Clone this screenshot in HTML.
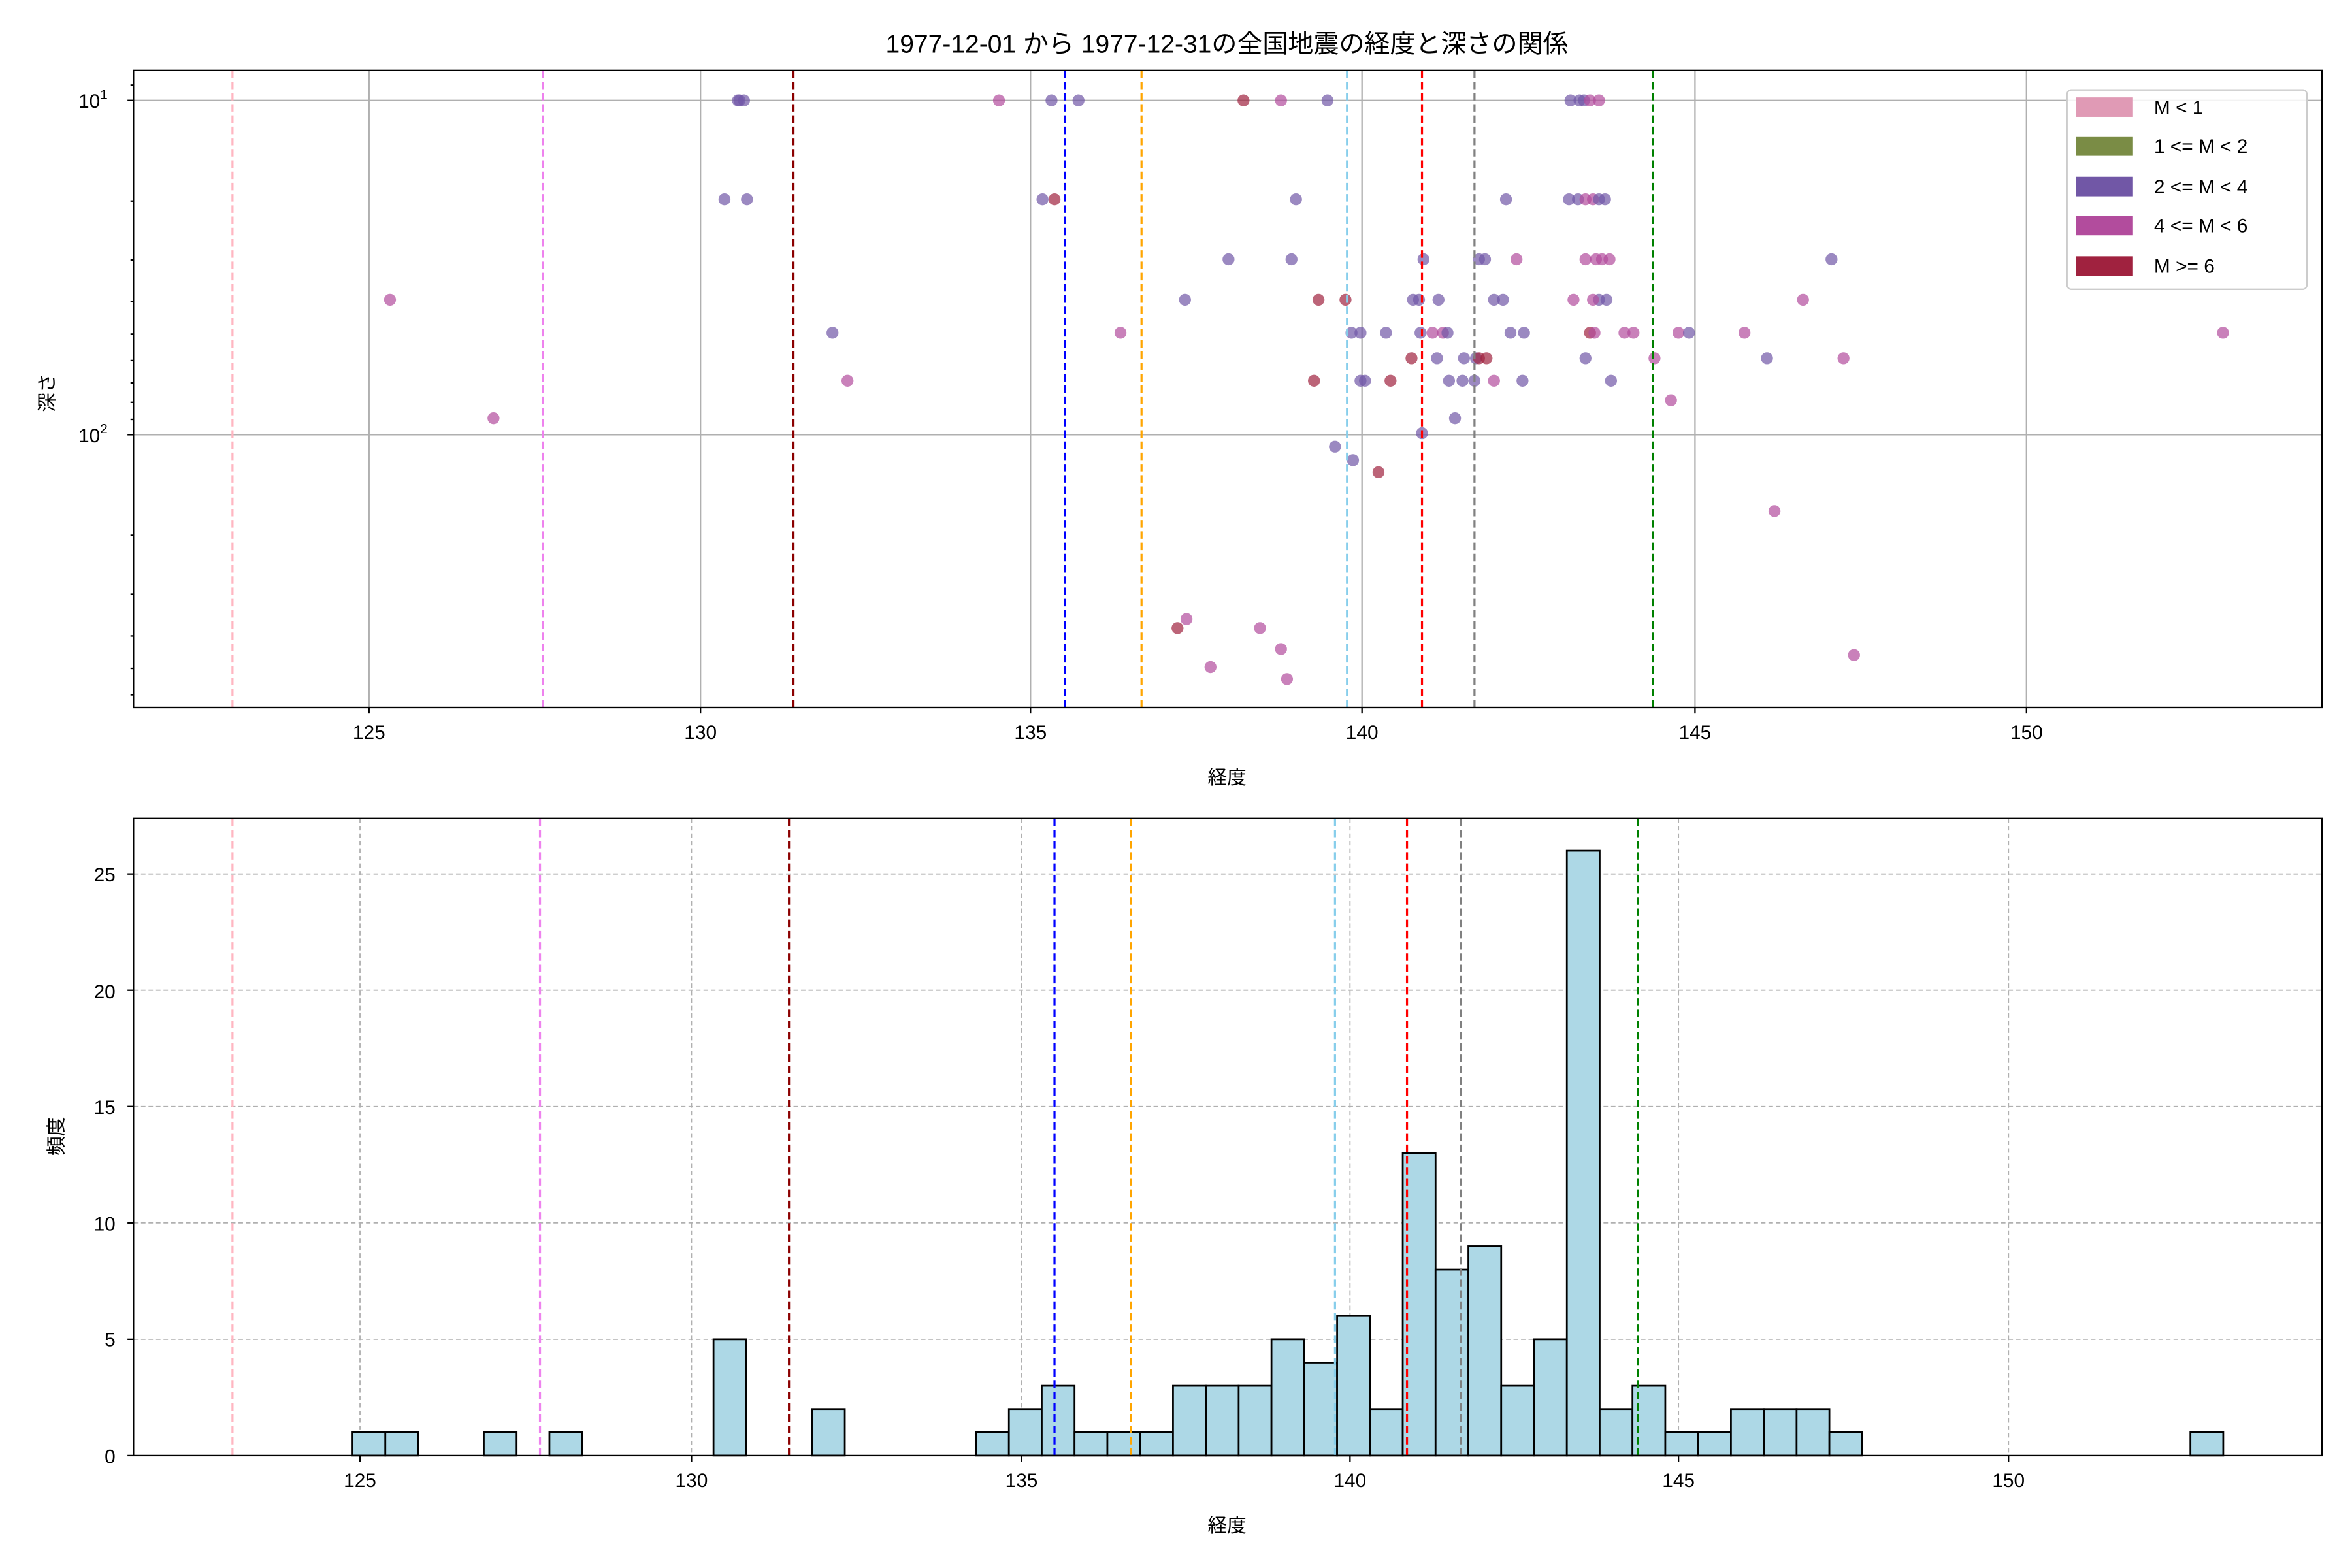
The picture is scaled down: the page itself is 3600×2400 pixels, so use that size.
<!DOCTYPE html>
<html><head><meta charset="utf-8"><style>
html,body{margin:0;padding:0;background:#fff;}
svg{display:block;}
text{font-family:"Liberation Sans","Noto Sans CJK JP",sans-serif;fill:#000;}
</style></head><body>
<svg id="s" width="3600" height="2400" viewBox="0 0 1568 1046" preserveAspectRatio="none" xmlns="http://www.w3.org/2000/svg">
<rect width="1568" height="1046" fill="#fff"/>
<text x="818" y="35" font-size="17" text-anchor="middle">1977-12-01 から 1977-12-31の全国地震の経度と深さの関係</text>
<g id="gtop"></g>
<g id="gbot"></g>
<rect x="89" y="47" width="1459" height="425" fill="none" stroke="#000" stroke-width="1"/>
<g font-size="13" text-anchor="middle">
<text x="246" y="493">125</text><text x="467" y="493">130</text><text x="687" y="493">135</text>
<text x="908" y="493">140</text><text x="1130" y="493">145</text><text x="1351" y="493">150</text>
<text x="818" y="523">経度</text>
</g>
<text x="62" y="72" font-size="13" text-anchor="middle">10<tspan font-size="9" dy="-6">1</tspan></text>
<text x="62" y="295" font-size="13" text-anchor="middle">10<tspan font-size="9" dy="-6">2</tspan></text>
<text transform="translate(36,262) rotate(-90)" font-size="13" text-anchor="middle">深さ</text>
<g id="legend">
<rect x="1378" y="60" width="160" height="133" rx="3" fill="#fff" fill-opacity="0.85" stroke="#ccc"/>
<g font-size="13">
<rect x="1384" y="65" width="38" height="13" fill="#e09ab5"/><text x="1436" y="76">M &lt; 1</text>
<rect x="1384" y="91" width="38" height="13" fill="#7a8c45"/><text x="1436" y="102">1 &lt;= M &lt; 2</text>
<rect x="1384" y="118" width="38" height="13" fill="#7157a6"/><text x="1436" y="129">2 &lt;= M &lt; 4</text>
<rect x="1384" y="144" width="38" height="13" fill="#b24c9d"/><text x="1436" y="155">4 &lt;= M &lt; 6</text>
<rect x="1384" y="171" width="38" height="13" fill="#a0223f"/><text x="1436" y="182">M &gt;= 6</text>
</g>
</g>
<rect x="89" y="546" width="1459" height="425" fill="none" stroke="#000" stroke-width="1"/>
<g font-size="13" text-anchor="middle">
<text x="240" y="992">125</text><text x="461" y="992">130</text><text x="681" y="992">135</text>
<text x="900" y="992">140</text><text x="1119" y="992">145</text><text x="1339" y="992">150</text>
<text x="818" y="1022">経度</text>
</g>
<g font-size="13" text-anchor="end">
<text x="77" y="976">0</text><text x="77" y="898">5</text><text x="77" y="821">10</text>
<text x="77" y="743">15</text><text x="77" y="666">20</text><text x="77" y="588">25</text>
</g>
<text transform="translate(42,758) rotate(-90)" font-size="13" text-anchor="middle">頻度</text>
</svg>
<script>
(function(){
const NS="http://www.w3.org/2000/svg";
function el(p,t,a){const e=document.createElementNS(NS,t);for(const k in a)e.setAttribute(k,a[k]);p.appendChild(e);return e;}
const gt=document.getElementById('gtop'),gb=document.getElementById('gbot');
[246,467,687,908,1130,1351].forEach(x=>{el(gt,'line',{x1:x,x2:x,y1:47,y2:472,stroke:'#b0b0b0','stroke-width':1});el(gt,'line',{x1:x,x2:x,y1:472,y2:476,stroke:'#000'});});
[67,290].forEach(y=>{el(gt,'line',{x1:89,x2:1548,y1:y,y2:y,stroke:'#b0b0b0','stroke-width':1});el(gt,'line',{x1:85,x2:89,y1:y,y2:y,stroke:'#000'});});
[1,10,100].forEach(d=>{for(let m=2;m<=9;m++){const v=d*m;const y=67+223*Math.log10(v/10);if(y>47&&y<472)el(gt,'line',{x1:87,x2:89,y1:y,y2:y,stroke:'#000'});}});
const vl=[['#ffb6c1',155,155],['#ee82ee',362,360],['#8b0000',529,526],['#0000ff',710,703],['#ffa500',761,754],['#87ceeb',898,890],['#ff0000',948,938],['#808080',983,974],['#008000',1102,1092]];
const P='#7157a6',M='#b24c9d',R='#a0223f';
const pts=[[496,67,P],[493,67,P],[666,67,M],[701,67,P],[719,67,P],[829,67,R],[854,67,M],[885,67,P],[1047,67,P],[1053,67,P],[1056,67,P],[1060,67,M],[1066,67,M],[492,67,P],
[483,133,P],[498,133,P],[695,133,P],[703,133,R],[864,133,P],[1046,133,P],[1052,133,P],[1057,133,M],[1062,133,M],[1066,133,P],[1070,133,P],[1004,133,P],
[819,173,P],[861,173,P],[949,173,P],[986,173,P],[990,173,P],[1011,173,M],[1057,173,M],[1064,173,M],[1068,173,M],[1073,173,M],
[260,200,M],[790,200,P],[879,200,R],[897,200,R],[942,200,P],[946,200,P],[1066,200,P],[1071,200,P],[1062,200,M],[1049,200,M],[1202,200,M],[1221,173,P],[1002,200,P],[996,200,P],[959,200,P],
[555,222,P],[747,222,M],[901,222,P],[907,222,P],[924,222,P],[947,222,P],[955,222,M],[962,222,M],[965,222,P],[1007,222,P],[1016,222,P],[1060,222,R],[1063,222,M],[1083,222,M],[1089,222,M],[1119,222,M],[1126,222,P],[1163,222,M],[1482,222,M],
[941,239,R],[958,239,P],[976,239,P],[984,239,P],[986,239,R],[991,239,R],[1057,239,P],[1103,239,M],[1178,239,P],[1229,239,M],
[565,254,M],[876,254,R],[907,254,P],[910,254,P],[927,254,R],[966,254,P],[975,254,P],[983,254,P],[996,254,M],[1015,254,P],[1074,254,P],
[1114,267,M],[329,279,M],[970,279,P],[948,289,P],[890,298,P],[902,307,P],[919,315,R],[1183,341,M],[791,413,M],[785,419,R],[840,419,M],[854,433,M],[1236,437,M],[807,445,M],[858,453,M]];
pts.forEach(p=>el(gt,'circle',{cx:p[0],cy:p[1],r:4,fill:p[2],'fill-opacity':0.7}));
vl.forEach(v=>el(gt,'line',{x1:v[1],x2:v[1],y1:47,y2:472,stroke:v[0],'stroke-width':1.4,'stroke-dasharray':'5,2.5'}));
[240,461,681,900,1119,1339].forEach(x=>{el(gb,'line',{x1:x,x2:x,y1:546,y2:971,stroke:'#b0b0b0','stroke-width':0.8,'stroke-dasharray':'3,2'});el(gb,'line',{x1:x,x2:x,y1:971,y2:975,stroke:'#000'});});
[0,5,10,15,20,25].forEach(v=>{const y=971-15.52*v;if(v>0)el(gb,'line',{x1:89,x2:1548,y1:y,y2:y,stroke:'#b0b0b0','stroke-width':0.8,'stroke-dasharray':'3,2'});el(gb,'line',{x1:85,x2:89,y1:y,y2:y,stroke:'#000'});});
const idx=[0,1,4,6,11,14,19,20,21,22,23,24,25,26,27,28,29,30,31,32,33,34,35,36,37,38,39,40,41,42,43,44,45,56];
const cnt=[1,1,1,1,5,2,1,2,3,1,1,1,3,3,3,5,4,6,2,13,8,9,3,5,26,2,3,1,1,2,2,2,1,1];
idx.forEach((k,i)=>{const x=235+k*21.88,h=cnt[i]*15.52;el(gb,'rect',{x:x,y:971-h,width:21.88,height:h,fill:'#add8e6',stroke:'#000','stroke-width':1.2});});
vl.forEach(v=>el(gb,'line',{x1:v[2],x2:v[2],y1:546,y2:971,stroke:v[0],'stroke-width':1.4,'stroke-dasharray':'5,2.5'}));
})();
</script>
</body></html>
